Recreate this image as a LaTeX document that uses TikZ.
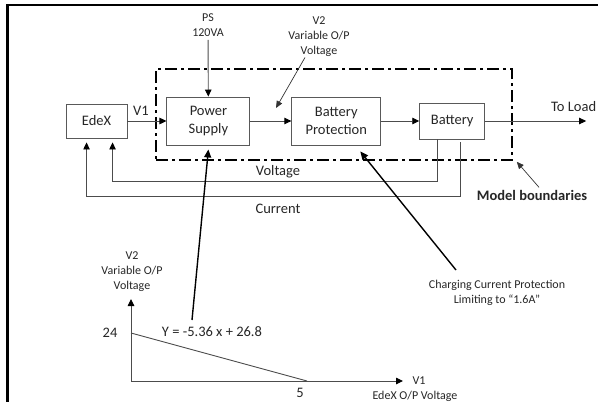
\documentclass[tikz,border=0pt]{standalone}
\usepackage{fontspec}
\setmainfont{Carlito}
\usetikzlibrary{arrows.meta, positioning, calc}

\begin{document}
\begin{tikzpicture}[
    x=1pt, y=-1pt,
    font=\fontsize{14.5}{18.5}\selectfont,
    text=black!85,
    block/.style={
        rectangle,
        draw=black!65,
        line width=0.9pt,
        align=center,
        inner sep=2pt
    },
    small/.style={font=\fontsize{12}{15}\selectfont, align=center},
    arrow/.style={draw=black!70, line width=0.9pt, -{Triangle[length=7pt, width=6.5pt, color=black]}},
    thinarrow/.style={draw=black!80, line width=0.7pt, -{Triangle[length=7pt, width=6pt]}},
    pointer/.style={black, line width=1.4pt, -{Triangle[length=8pt, width=7pt]}},
    boundary/.style={draw=black, line width=1.6pt, dash pattern=on 12pt off 4pt on 3pt off 4pt}
]
    \useasboundingbox (0,0) rectangle (598,402);

    % frame
    \draw [line width=2.5pt] (7.5,402) -- (7.5,5) -- (598,5);

    % blocks
    \node (edex) [block, minimum width=61pt, minimum height=34pt] at (96.5,121) {EdeX};
    \node (ps) [block, minimum width=83pt, minimum height=48pt, right=39pt of edex] {Power\\Supply};
    \node (bp) [block, minimum width=89pt, minimum height=48pt, right=41pt of ps] {Battery\\Protection};
    \node (batt) [block, minimum width=65pt, minimum height=36pt, right=38pt of bp] {Battery};

    \node (bound) [boundary, minimum width=356pt, minimum height=91pt] at (334,114.5) {};

    % labels
    \node (pslbl) [small] at (208,25) {PS\\120VA};
    \node (v1) at (141,111) {V1};
    \node (v2lbl) [small] at (319,37) {V2\\Variable O/P\\Voltage};
    \node (loadlbl) [anchor=west, inner sep=0pt] at (551,107) {To Load};
    \node (vlbl) at (278,172) {Voltage};
    \node (ilbl) at (278,209) {Current};
    \node (mblbl) [font=\fontsize{14.5}{17}\selectfont\bfseries] at (532,195) {Model boundaries};
    \node (chglbl) [small] at (497,292.5) {Charging Current Protection\\Limiting to “1.6A”};

    \coordinate (v2tip) at (276,108);
    \coordinate [right=101pt of batt] (load);
    \coordinate (vtap) at ($(batt.south west)+(18,0)$);
    \coordinate (itap) at ($(batt.south west)+(41,3)$);
    \coordinate (chgend) at (456,270);
    \coordinate (eqend) at (192,320);

    % main flow
    \draw [arrow] (pslbl) -- (ps);
    \draw [arrow] (edex) -- (ps);
    \draw [arrow] (ps) -- (bp);
    \draw [arrow] (bp) -- (batt);
    \draw [arrow] (batt) -- (load);
    \draw [thinarrow] ($(v2lbl.south)+(-14,-3)$) -- (v2tip);

    % feedback
    \draw [arrow] (vtap) -- ++(0,42) -| ($(edex.south west)+(47,4)$);
    \draw [arrow] (itap) -- ++(0,54) -| ($(edex.south west)+(21,4)$);

    \draw [thinarrow] ($(mblbl.north)+(7,1)$) -- ($(bound.south east)+(4,1)$);
    \draw [pointer] (chgend) -- ($(bp.south)+(24,6)$);
    \draw [pointer] (eqend) -- ($(ps.south)+(0,4)$);

    % graph
    \coordinate (origin) at (131,381);
    \coordinate (yend) at (131,299);
    \coordinate (xend) at (403,381);
    \coordinate (p24) at (131,333);
    \coordinate (p5) at (307,381);
    \draw [arrow] (origin) -- (yend);
    \draw [arrow] (origin) -- (xend);
    \draw [draw=black!70, line width=0.9pt] (p24) -- (p5);

    \node (l24) at (110,333) {24};
    \node (l5) at (300,393) {5};
    \node (eqlbl) at (212,332) {Y = -5.36 x + 26.8};
    \node (v1ax) [small, anchor=west] at (409,381) {V1};
    \node (v1axlbl) [small] at (415,396) {EdeX O/P Voltage};
    \node (v2ax) [small] at (132,272) {V2\\Variable O/P\\Voltage};

\end{tikzpicture}
\end{document}
